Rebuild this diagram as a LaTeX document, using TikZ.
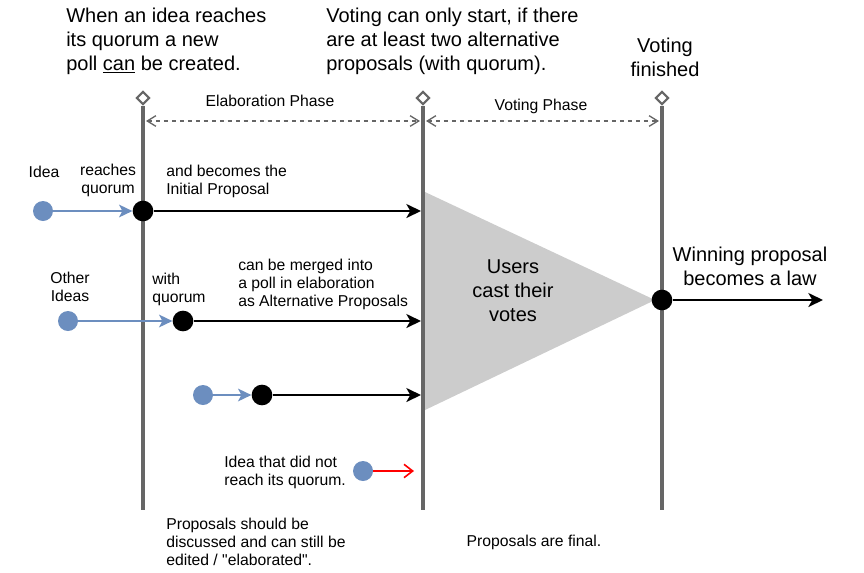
\documentclass[tikz,border=0pt]{standalone}
\usepackage{fontspec}
\setmainfont{Liberation Sans}[Ligatures=TeXOff]
\usetikzlibrary{arrows.meta,shapes.geometric}
\definecolor{ideablue}{HTML}{6C8EBF}
\definecolor{axisgray}{HTML}{666666}
\definecolor{votegray}{HTML}{CCCCCC}
\tikzset{
  smalltext/.style={font=\fontsize{11.8}{13.5}\selectfont, inner sep=0pt},
  bigtext/.style={font=\fontsize{15}{18}\selectfont, inner sep=0pt},
  blackdot/.style={circle, fill=black, minimum size=15.5pt, inner sep=0pt},
  ideadot/.style={circle, fill=ideablue, minimum size=15pt, inner sep=0pt},
  timeline/.style={draw=axisgray, line width=3pt},
  linetop/.style={diamond, draw=axisgray, fill=white, line width=1.6pt, minimum size=10pt, inner sep=0pt},
  phasearrow/.style={draw=axisgray, dashed, line width=1pt, {Straight Barb[length=6.5pt,width=8pt]}-{Straight Barb[length=6.5pt,width=8pt]}},
  proparrow/.style={line width=1.5pt, -{Stealth[length=11pt,width=10.5pt,inset=3pt]}},
  ideaarrow/.style={draw=ideablue, line width=1.5pt, -{Stealth[length=10pt,width=9.5pt,inset=2.5pt]}},
  lostarrow/.style={draw=red, line width=1.2pt, -{Straight Barb[length=6.5pt,width=10pt]}}
}
\begin{document}
\begin{tikzpicture}[x=0.75pt, y=-0.75pt]
  \useasboundingbox (0,0) rectangle (864,572);

  \fill[votegray] (425,192) -- (425,410) -- (655,300) -- cycle;

  \node[linetop] (top1) at (143,98) {};
  \node[linetop] (top2) at (423,98) {};
  \node[linetop] (top3) at (662,98) {};
  \coordinate (bot1) at (143,510);
  \coordinate (bot2) at (423,510);
  \coordinate (bot3) at (662,510);
  \draw[timeline] (top1) -- (bot1);
  \draw[timeline] (top2) -- (bot2);
  \draw[timeline] (top3) -- (bot3);

  \node[bigtext, anchor=west, align=left] (created) at (66,41) {When an idea reaches\\its quorum a new\\poll \underline{can} be created.};
  \node[bigtext, anchor=west, align=left] (start) at (326,41) {Voting can only start, if there\\are at least two alternative\\proposals (with quorum).};
  \node[bigtext, align=center] (finished) at (665,57) {Voting\\finished};

  \coordinate (el1) at (146,121);
  \coordinate (el2) at (420,121);
  \coordinate (vo1) at (426,121);
  \coordinate (vo2) at (659,121);
  \draw[phasearrow] (el1) -- (el2);
  \draw[phasearrow] (vo1) -- (vo2);
  \node[smalltext] (elab) at (270,101) {Elaboration Phase};
  \node[smalltext] (vote) at (541,106) {Voting Phase};

  \node[ideadot] (idea) at (43,211) {};
  \node[blackdot] (init) at (143,211) {};
  \coordinate (initend) at (421,211);
  \draw[ideaarrow] (idea) -- (init);
  \draw[proparrow] (init) -- (initend);
  \node[smalltext] (idealbl) at (44,172) {Idea};
  \node[smalltext, align=center] (reaches) at (108,180) {reaches\\quorum};
  \node[smalltext, anchor=west, align=left] (initlbl) at (166,181) {and becomes the\\Initial Proposal};

  \node[ideadot] (other) at (68,321) {};
  \node[blackdot] (alt) at (183,321) {};
  \coordinate (altend) at (421,321);
  \draw[ideaarrow] (other) -- (alt);
  \draw[proparrow] (alt) -- (altend);
  \node[smalltext, align=center] (otherlbl) at (70,287) {Other\\Ideas};
  \node[smalltext, anchor=west, align=left] (withq) at (152,289) {with\\quorum};
  \node[smalltext, anchor=west, align=left] (merged) at (238,284) {can be merged into\\a poll in elaboration\\as Alternative Proposals};

  \node[ideadot] (third) at (203,395) {};
  \node[blackdot] (alt3) at (262,395) {};
  \coordinate (alt3end) at (421,395);
  \draw[ideaarrow] (third) -- (alt3);
  \draw[proparrow] (alt3) -- (alt3end);

  \node[ideadot] (lost) at (363,471) {};
  \coordinate (lostend) at (414,471);
  \draw[lostarrow] (lost) -- (lostend);
  \node[smalltext, anchor=west, align=left] (lostlbl) at (224,472) {Idea that did not\\reach its quorum.};

  \node[bigtext, align=center] (users) at (513,291) {Users\\cast their\\votes};

  \node[blackdot] (win) at (662,300) {};
  \coordinate (law) at (823,300);
  \draw[proparrow] (win) -- (law);
  \node[bigtext, align=center] (winlbl) at (750,266) {Winning proposal\\becomes a law};

  \node[smalltext, anchor=west, align=left] (discuss) at (166,542) {Proposals should be\\discussed and can still be\\edited / "elaborated".};
  \node[smalltext] (final) at (534,542) {Proposals are final.};
\end{tikzpicture}
\end{document}
